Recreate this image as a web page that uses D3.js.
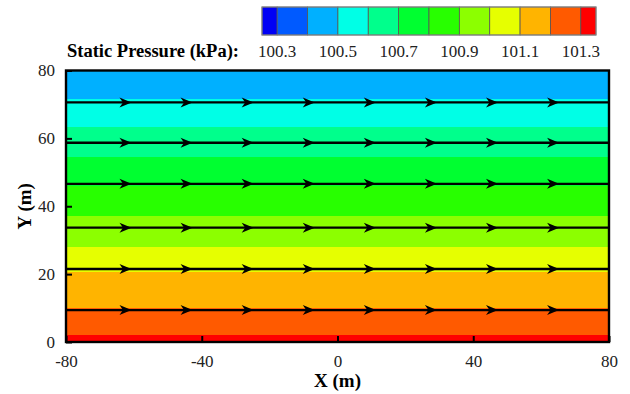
<!DOCTYPE html>
<html>
<head>
<meta charset="utf-8">
<script src="https://cdn.jsdelivr.net/npm/d3@7"></script>
<style>
  body { margin: 0; background: #fff; }
</style>
</head>
<body>
<div class="container"></div>
<script>
// contour levels and colours (Tecplot style legend)
const levels = [100.3, 100.4, 100.5, 100.6, 100.7, 100.8, 100.9, 101.0, 101.1, 101.2, 101.3];
const colors = ["#0000f5", "#005aff", "#00b0ff", "#00ffe6", "#00ff8c", "#00ff30",
                "#28ff00", "#8cff00", "#e6ff00", "#ffb400", "#ff5a00", "#ff0000"];
const legendLabels = ["100.3", "100.5", "100.7", "100.9", "101.1", "101.3"];

// Y (m) where each pressure level crosses the field
const contourLevels = [100.5, 100.6, 100.7, 100.8, 100.9, 101.0, 101.1, 101.2, 101.3];
const contourY = [71.6, 63.4, 54.6, 46.0, 37.1, 28.1, 20.5, 10.0, 2.1];

// streamlines
const streamY = [70.6, 58.7, 46.6, 33.7, 21.5, 9.4];
const arrowX = [-61, -43, -25, -7, 11, 29, 47, 65];

const xTicks = [-80, -40, 0, 40, 80];
const yTicks = [0, 20, 40, 60, 80];

const width = 630, height = 394;
const margin = { top: 70.5, right: 21, bottom: 52, left: 66 };
const serif = "Liberation Serif";

const svg = d3.select(".container")
    .append("svg")
    .attr("width", width)
    .attr("height", height)
    .style("font-family", serif);

const x = d3.scaleLinear().domain([-80, 80]).range([margin.left, width - margin.right]);
const y = d3.scaleLinear().domain([0, 80]).range([height - margin.bottom, margin.top]);

const pAtY = d3.scaleLinear().domain(contourY).range(contourLevels);
const colorOf = d3.scaleThreshold().domain(levels).range(colors);

// bands between contour crossings
const edges = [80].concat(contourY, [0]);
const bands = d3.pairs(edges).map(([top, bot]) => ({ top, bot, color: colorOf(pAtY((top + bot) / 2)) }));

svg.append("g")
    .selectAll("rect")
    .data(bands)
    .join("rect")
    .attr("x", x(-80))
    .attr("width", x(80) - x(-80))
    .attr("y", d => y(d.top))
    .attr("height", d => y(d.bot) - y(d.top))
    .attr("fill", d => d.color)
    .attr("shape-rendering", "crispEdges");

// streamlines
const sl = svg.append("g");
sl.selectAll("line")
    .data(streamY)
    .join("line")
    .attr("x1", x(-80))
    .attr("x2", x(80))
    .attr("y1", d => y(d))
    .attr("y2", d => y(d))
    .attr("stroke", "#000")
    .attr("stroke-width", 2.4);

const arrows = streamY.flatMap(sy => arrowX.map(ax => ({ sx: ax, sy })));
sl.selectAll("path")
    .data(arrows)
    .join("path")
    .attr("d", "M1,0L-11,-5L-7.5,0L-11,5Z")
    .attr("transform", d => `translate(${x(d.sx)},${y(d.sy)})`)
    .attr("fill", "#000");

// axes with inward ticks
const xAxis = svg.append("g")
    .attr("transform", `translate(0,${y(0)})`)
    .call(d3.axisBottom(x).tickValues(xTicks).tickFormat(d => String(d))
        .tickSizeInner(-6).tickSizeOuter(0).tickPadding(13));
const yAxis = svg.append("g")
    .attr("transform", `translate(${x(-80)},0)`)
    .call(d3.axisLeft(y).tickValues(yTicks).tickFormat(d => String(d))
        .tickSizeInner(-6).tickSizeOuter(0).tickPadding(11));

[xAxis, yAxis].forEach(g => {
    g.attr("font-family", serif).attr("font-size", 17);
    g.select(".domain").remove();
    g.selectAll(".tick line").attr("stroke", "#000").attr("stroke-width", 2);
    g.selectAll(".tick text").attr("fill", "#222");
});

// frame
svg.append("rect")
    .attr("x", x(-80))
    .attr("y", y(80))
    .attr("width", x(80) - x(-80))
    .attr("height", y(0) - y(80))
    .attr("fill", "none")
    .attr("stroke", "#000")
    .attr("stroke-width", 2.4);

// axis titles
svg.append("text")
    .attr("x", x(0))
    .attr("y", 387)
    .attr("text-anchor", "middle")
    .attr("font-weight", "bold")
    .attr("font-size", 19)
    .text("X (m)");

svg.append("text")
    .attr("transform", `translate(31,${y(40)}) rotate(-90)`)
    .attr("text-anchor", "middle")
    .attr("font-weight", "bold")
    .attr("font-size", 19)
    .text("Y (m)");

// colour legend
const lx = d3.scaleLinear().domain([100.25, 101.35]).range([262, 596]);
const cellEdges = [100.25].concat(levels, [101.35]);
const legend = svg.append("g");
legend.selectAll("rect")
    .data(d3.pairs(cellEdges))
    .join("rect")
    .attr("x", d => lx(d[0]))
    .attr("width", d => lx(d[1]) - lx(d[0]))
    .attr("y", 7)
    .attr("height", 28)
    .attr("fill", (d, i) => colors[i])
    .attr("stroke", "#555")
    .attr("stroke-width", 0.8);

legend.append("rect")
    .attr("x", lx(100.25))
    .attr("y", 7)
    .attr("width", lx(101.35) - lx(100.25))
    .attr("height", 28)
    .attr("fill", "none")
    .attr("stroke", "#888")
    .attr("stroke-width", 1);

legend.selectAll("text.lab")
    .data(legendLabels)
    .join("text")
    .attr("class", "lab")
    .attr("x", d => lx(+d))
    .attr("y", 57)
    .attr("text-anchor", "middle")
    .attr("font-size", 17)
    .attr("fill", "#222")
    .text(d => d);

legend.append("text")
    .attr("x", 67)
    .attr("y", 57)
    .attr("font-weight", "bold")
    .attr("font-size", 18.5)
    .text("Static Pressure (kPa):");
</script>
</body>
</html>
